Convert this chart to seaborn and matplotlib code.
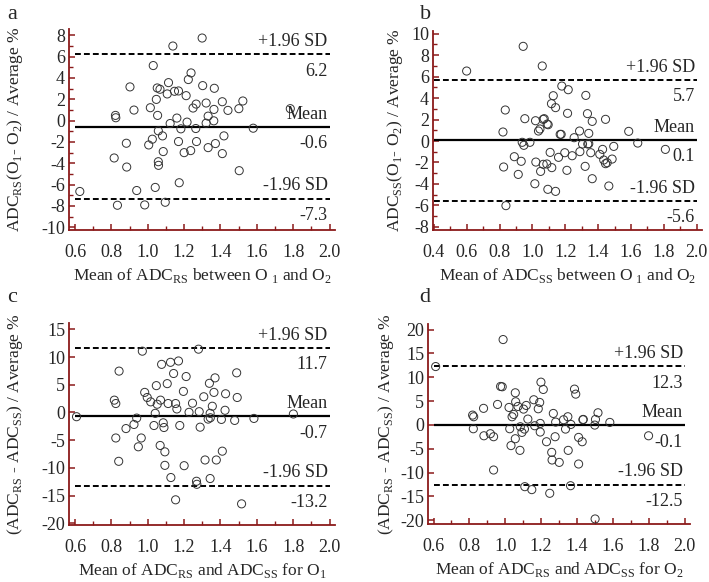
import matplotlib
matplotlib.use('Agg')
import matplotlib.pyplot as plt
from matplotlib.ticker import MultipleLocator, FormatStrFormatter
import seaborn as sns
import pandas as pd

# panel a : RS, O1 vs O2
a_mean = [0.626, 0.833, 0.815, 0.822, 0.824, 0.882, 0.884, 0.902, 0.924, 0.939, 0.983, 1.005, 1.014,
          1.025, 1.030, 1.041, 1.047, 1.052, 1.054, 1.058, 1.058, 1.059, 1.067, 1.081, 1.085, 1.096,
          1.107, 1.114, 1.123, 1.138, 1.147, 1.160, 1.169, 1.173, 1.169, 1.182, 1.200, 1.211, 1.216,
          1.223, 1.238, 1.236, 1.249, 1.264, 1.266, 1.268, 1.299, 1.302, 1.321, 1.321, 1.332, 1.332,
          1.363, 1.366, 1.364, 1.372, 1.410, 1.410, 1.419, 1.441, 1.501, 1.503, 1.523, 1.580, 1.784]
a_diff = [-6.64, -7.93, -3.50, 0.49, 0.27, -2.12, -4.35, 3.16, 0.99, -6.55, -7.90, -2.28, 1.21,
          -1.74, 5.16, -6.26, 1.99, 3.06, 0.49, -0.96, -3.85, -4.19, 2.94, -1.43, -2.90, -7.65,
          2.50, 3.56, -0.27, 6.99, 2.75, 0.24, 2.78, -5.82, -1.96, -0.77, -3.00, 2.34, -0.14,
          3.85, 4.47, -2.81, 1.18, -0.74, 1.55, -1.96, 7.74, 3.28, 1.65, -0.24, 0.42, -2.53,
          -0.02, 3.03, 1.05, -2.15, 1.77, -3.09, -1.43, 0.96, 1.12, -4.69, 1.84, -0.71, 1.12]

# panel b : SS, O1 vs O2
b_mean = [0.600, 0.944, 1.060, 0.835, 0.821, 0.825, 0.839, 0.890, 0.914, 0.932, 0.938, 0.948, 0.954,
          0.985, 1.015, 1.019, 1.021, 1.037, 1.046, 1.050, 1.066, 1.072, 1.066, 1.090, 1.096, 1.088,
          1.094, 1.108, 1.118, 1.116, 1.127, 1.141, 1.141, 1.159, 1.169, 1.175, 1.179, 1.197, 1.214,
          1.218, 1.210, 1.242, 1.254, 1.287, 1.289, 1.305, 1.321, 1.325, 1.335, 1.337, 1.343, 1.343,
          1.355, 1.364, 1.364, 1.410, 1.427, 1.434, 1.445, 1.445, 1.455, 1.465, 1.485, 1.495, 1.586,
          1.641, 1.809]
b_diff = [6.52, 8.82, 6.99, 2.89, 0.84, -2.42, -6.02, -1.46, -3.11, -1.89, -0.12, -0.40, 2.08,
          -0.12, -3.98, 1.89, -1.96, 0.93, 1.12, -2.83, 2.02, 2.08, -2.17, 1.58, 1.52, -2.14,
          -4.50, -1.06, -2.48, 3.48, 4.22, 3.11, -4.69, -1.52, 0.62, 0.62, 5.12, -1.09, 2.58,
          4.78, -2.73, -1.37, 0.31, 0.93, -0.99, -0.28, -2.36, 4.25, 2.55, -0.28, -0.25, 0.71,
          -1.09, 1.83, -3.51, -1.24, -0.78, -1.77, 2.02, -2.11, -2.02, -4.19, -1.68, -0.50, 0.90,
          -0.19, -0.78]

# panel c : RS vs SS, O1
c_mean = [0.608, 0.816, 0.824, 0.842, 0.824, 0.840, 0.880, 0.924, 0.939, 0.964, 0.948, 0.970, 0.983,
          0.997, 1.016, 1.034, 1.041, 1.047, 1.052, 1.070, 1.068, 1.076, 1.085, 1.089, 1.094, 1.094,
          1.107, 1.112, 1.125, 1.127, 1.142, 1.153, 1.160, 1.153, 1.169, 1.176, 1.196, 1.200, 1.211,
          1.227, 1.246, 1.268, 1.270, 1.279, 1.283, 1.288, 1.308, 1.315, 1.332, 1.339, 1.343, 1.344,
          1.343, 1.355, 1.364, 1.370, 1.377, 1.405, 1.410, 1.425, 1.428, 1.478, 1.489, 1.492, 1.516,
          1.584, 1.801]
c_diff = [-0.76, 2.23, 1.62, 7.47, -4.60, -8.81, -2.90, -2.16, -1.01, -4.60, -6.19, 11.07, 3.63,
          2.71, 1.92, -2.35, -0.15, 4.85, 1.49, 2.23, -5.95, 8.69, -1.86, -2.71, -7.10, -9.54,
          5.21, 1.62, 9.06, -11.74, 7.04, 1.62, 0.64, -15.76, 9.30, -2.35, 3.81, -9.60, 6.49,
          0.03, 1.68, -12.41, -12.96, 11.43, 0.15, -2.65, 2.84, -8.57, -1.19, 5.27, -0.15, -0.95,
          -11.92, 1.13, 3.63, 6.25, -8.57, -1.25, -6.98, 0.40, 3.38, -1.43, 7.16, 2.71, -16.49,
          -1.07, -0.27]

# panel d : RS vs SS, O2
d_mean = [0.612, 0.988, 0.818, 0.824, 0.822, 0.879, 0.881, 0.917, 0.935, 0.935, 0.957, 0.974, 0.983,
          1.021, 1.025, 1.032, 1.038, 1.047, 1.056, 1.058, 1.056, 1.071, 1.082, 1.084, 1.093, 1.102,
          1.107, 1.109, 1.117, 1.126, 1.148, 1.159, 1.164, 1.184, 1.192, 1.195, 1.195, 1.199, 1.212,
          1.230, 1.248, 1.259, 1.261, 1.268, 1.278, 1.281, 1.301, 1.325, 1.336, 1.349, 1.351, 1.364,
          1.366, 1.386, 1.393, 1.409, 1.409, 1.429, 1.433, 1.435, 1.499, 1.503, 1.517, 1.501, 1.583,
          1.799]
d_diff = [12.24, 17.90, 2.06, 1.72, -0.80, 3.48, -2.27, -1.84, -2.47, -9.45, 4.30, 8.07, 8.00,
          3.67, -0.80, -4.33, 1.72, 2.21, 6.74, 4.86, -2.89, 3.88, -5.33, -0.38, -1.56, 3.32,
          -0.87, -12.94, 4.09, 1.23, -13.56, 5.28, -0.17, 3.39, 4.72, 0.32, -1.49, 8.97, 7.44,
          -3.52, -14.33, -5.75, -7.35, 2.41, -2.47, 0.60, -7.85, 1.09, -0.87, 1.72, -5.33, -12.74,
          0.11, 7.51, 6.46, -2.61, -8.19, -3.52, 1.09, 1.16, -0.03, 1.16, 2.55, -19.71, 0.53,
          -2.27]

# mean, +1.96 SD, -1.96 SD
a_lines = [-0.6, 6.2, -7.3]
b_lines = [0.1, 5.7, -5.6]
c_lines = [-0.7, 11.7, -13.2]
d_lines = [-0.1, 12.3, -12.5]

letters = ['a', 'b', 'c', 'd']
xlabels = [r'Mean of ADC$_{\mathregular{RS}}$ between O$_{\mathregular{\ 1}}$ and O$_{\mathregular{2}}$',
           r'Mean of ADC$_{\mathregular{SS}}$ between O$_{\mathregular{\ 1}}$ and O$_{\mathregular{2}}$',
           r'Mean of ADC$_{\mathregular{RS}}$ and ADC$_{\mathregular{SS}}$ for O$_{\mathregular{1}}$',
           r'Mean of ADC$_{\mathregular{RS}}$ and ADC$_{\mathregular{SS}}$ for O$_{\mathregular{2}}$']
ylabels = [r'ADC$_{\mathregular{RS}}$(O$_{\mathregular{1}}$- O$_{\mathregular{2}}$) / Average %',
           r'ADC$_{\mathregular{SS}}$(O$_{\mathregular{1}}$- O$_{\mathregular{2}}$) / Average %',
           r'(ADC$_{\mathregular{RS}}$ - ADC$_{\mathregular{SS}}$) / Average %',
           r'(ADC$_{\mathregular{RS}}$ - ADC$_{\mathregular{SS}}$) / Average %']

sns.set_style('ticks')
plt.rcParams['font.family'] = ['Liberation Serif', 'DejaVu Serif']
plt.rcParams['mathtext.fontset'] = 'custom'
plt.rcParams['mathtext.rm'] = 'Liberation Serif'
plt.rcParams['font.size'] = 13

axcol = '#8b1a1a'

fig = plt.figure(figsize=(7.09, 5.82), dpi=100)
# left, bottom, width, height  (figure fractions)
boxes = [[0.0977, 0.6048, 0.3748, 0.3449],
         [0.6111, 0.6048, 0.3786, 0.3425],
         [0.0977, 0.0980, 0.3748, 0.3465],
         [0.6041, 0.0997, 0.3691, 0.3431]]
xlims = [(0.568, 2.03), (0.397, 2.03), (0.568, 2.03), (0.571, 2.03)]
ylims = [(-10.25, 8.56), (-8.29, 10.28), (-20.3, 16.1), (-20.76, 21.1)]
ymaj = [2, 2, 5, 5]
ymin_tick = [1, 1, None, None]
xstarts = [0.6, 0.4, 0.6, 0.6]
ylab_x = [-0.166, -0.104, -0.166, -0.123]
letter_pos = [(0.010, 0.975), (0.592, 0.975), (0.010, 0.488), (0.592, 0.488)]

panels = [(a_mean, a_diff, a_lines), (b_mean, b_diff, b_lines),
          (c_mean, c_diff, c_lines), (d_mean, d_diff, d_lines)]

for i, (xm, yd, lines) in enumerate(panels):
    ax = fig.add_axes(boxes[i])
    df = pd.DataFrame({'m': xm, 'd': yd})
    sns.scatterplot(data=df, x='m', y='d', ax=ax, marker='o', s=34,
                    facecolor='none', edgecolor='#333333', linewidth=0.7, zorder=3)
    mean, up, lo = lines
    ax.hlines(mean, xstarts[i], 2.0, color='black', lw=1.6, zorder=2)
    ax.hlines([up, lo], xstarts[i], 2.0, color='black', lw=1.4, linestyles=(0, (3, 1.6)), zorder=2)
    for yv, top, bot in [(up, '+1.96 SD', '%.1f' % up), (mean, 'Mean', '%.1f' % mean),
                         (lo, '-1.96 SD', '%.1f' % lo)]:
        ax.annotate(top, (1.99, yv), xytext=(0, 3), textcoords='offset points',
                    ha='right', va='bottom', fontsize=13)
        ax.annotate(bot, (1.99, yv), xytext=(0, -6), textcoords='offset points',
                    ha='right', va='top', fontsize=13)
    ax.set_xlim(xlims[i])
    ax.set_ylim(ylims[i])
    ax.xaxis.set_major_locator(MultipleLocator(0.2))
    ax.xaxis.set_minor_locator(MultipleLocator(0.1))
    ax.yaxis.set_major_locator(MultipleLocator(ymaj[i]))
    if ymin_tick[i]:
        ax.yaxis.set_minor_locator(MultipleLocator(ymin_tick[i]))
    ax.xaxis.set_major_formatter(FormatStrFormatter('%.1f'))
    ax.yaxis.set_major_formatter(FormatStrFormatter('%d'))
    sns.despine(ax=ax)
    for sp in ['left', 'bottom']:
        ax.spines[sp].set_color(axcol)
        ax.spines[sp].set_linewidth(1.3)
    ax.tick_params(which='major', direction='in', length=4, width=1.1, color=axcol, labelsize=13)
    ax.tick_params(axis='x', which='major', pad=10)
    ax.tick_params(axis='y', which='major', pad=3)
    ax.tick_params(which='minor', direction='in', length=3, width=1.0, color=axcol)
    ax.set_xlabel(xlabels[i], fontsize=12.5, labelpad=4)
    ax.set_ylabel(ylabels[i], fontsize=12.5)
    ax.yaxis.set_label_coords(ylab_x[i], 0.5)
    fig.text(letter_pos[i][0], letter_pos[i][1], letters[i], fontsize=16, va='center', ha='left')

fig.savefig('out.png', dpi=100)
